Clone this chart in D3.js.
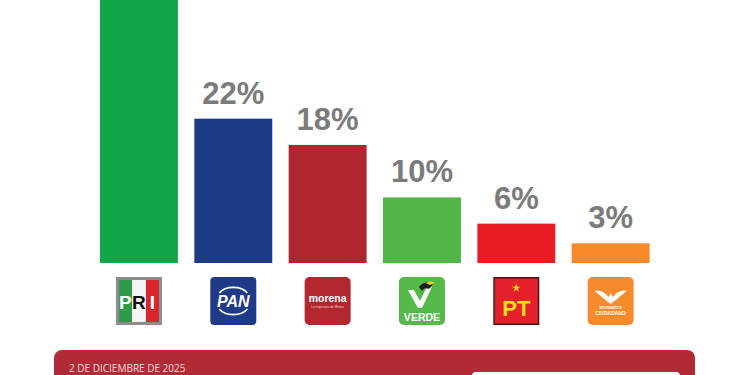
<!DOCTYPE html>
<html>
<head>
<meta charset="utf-8">
<script src="https://cdn.jsdelivr.net/npm/d3@7"></script>
<style>
    body { margin: 0; background: #fff; }
    svg { display: block; }
</style>
</head>
<body>
<div class="party-plot"></div>
<script>

// chart values
const parties = ["PRI", "PAN", "MORENA", "VERDE", "PT", "MC"];
const percents = [41, 22, 18, 10, 6, 3];
const barColors = ["#10a64a", "#1d3a86", "#b0262f", "#52b548", "#e91c24", "#f68a2b"];
const dateLabel = "2 DE DICIEMBRE DE 2025";

const width = 750;
const height = 375;

const rows = parties.map((p, i) => ({ party: p, value: percents[i], color: barColors[i] }));

const svg = d3.select(".party-plot")
    .append("svg")
    .attr("width", width)
    .attr("height", height);

const x = d3.scaleBand()
    .domain(parties)
    .range([91.8, 657.8])
    .paddingInner(0.174)
    .paddingOuter(0.087);

const y = d3.scaleLinear()
    .domain([0, 40])
    .range([263, 0.6]);

// bars
svg.selectAll(".bar")
    .data(rows)
    .enter()
    .append("rect")
    .attr("class", "bar")
    .attr("x", d => x(d.party))
    .attr("y", d => y(d.value))
    .attr("width", x.bandwidth())
    .attr("height", d => y(0) - y(d.value))
    .attr("fill", d => d.color);

// percent labels above bars (the tallest one runs off the top of the frame)
svg.selectAll(".bar-label")
    .data(rows.filter(d => y(d.value) - 15 > 30))
    .enter()
    .append("text")
    .attr("class", "bar-label")
    .text(d => d.value + "%")
    .attr("x", d => x(d.party) + x.bandwidth() / 2)
    .attr("y", d => y(d.value) - 15)
    .attr("text-anchor", "middle")
    .attr("font-family", "Liberation Sans, Arial, sans-serif")
    .attr("font-weight", "bold")
    .attr("font-size", "31px")
    .attr("fill", "#7b7b7b");

// logos under each bar
const logos = svg.selectAll(".logo")
    .data(rows)
    .enter()
    .append("g")
    .attr("class", "logo")
    .attr("transform", d => `translate(${x(d.party) + x.bandwidth() / 2 - 23},277)`);

const font = "Liberation Sans, Arial, sans-serif";

logos.each(function(d) {
    const g = d3.select(this);
    if (d.party === "PRI") {
        g.append("rect").attr("width", 46).attr("height", 48).attr("fill", "#8d8d8d");
        g.append("rect").attr("x", 3).attr("y", 3).attr("width", 13).attr("height", 42).attr("fill", "#2f9a4a");
        g.append("rect").attr("x", 16).attr("y", 3).attr("width", 14).attr("height", 42).attr("fill", "#f4f4f4");
        g.append("rect").attr("x", 30).attr("y", 3).attr("width", 13).attr("height", 42).attr("fill", "#d9262c");
        [["P", 9.5, "#fff"], ["R", 23, "#111"], ["I", 36.5, "#fff"]].forEach(l => {
            g.append("text").text(l[0]).attr("x", l[1]).attr("y", 32)
                .attr("text-anchor", "middle").attr("font-family", font)
                .attr("font-weight", "bold").attr("font-size", "19px").attr("fill", l[2]);
        });
    }
    else if (d.party === "PAN") {
        g.append("rect").attr("width", 46).attr("height", 48).attr("rx", 4).attr("fill", "#1f3b87");
        g.append("path").attr("d", "M9 16 A16 11 0 0 1 37 16").attr("fill", "none").attr("stroke", "#fff").attr("stroke-width", 1.6);
        g.append("path").attr("d", "M9 32 A16 11 0 0 0 37 32").attr("fill", "none").attr("stroke", "#fff").attr("stroke-width", 1.6);
        g.append("text").text("PAN").attr("x", 23).attr("y", 30)
            .attr("text-anchor", "middle").attr("font-family", font)
            .attr("font-weight", "bold").attr("font-style", "italic")
            .attr("font-size", "16px").attr("fill", "#fff");
    }
    else if (d.party === "MORENA") {
        g.append("rect").attr("width", 46).attr("height", 48).attr("rx", 5).attr("fill", "#b3272f");
        g.append("text").text("morena").attr("x", 23).attr("y", 25)
            .attr("text-anchor", "middle").attr("font-family", font)
            .attr("font-weight", "bold").attr("font-size", "10.5px").attr("fill", "#fff");
        g.append("text").text("La esperanza de México").attr("x", 23).attr("y", 31)
            .attr("text-anchor", "middle").attr("font-family", font)
            .attr("font-size", "3px").attr("fill", "#f3d3d3");
    }
    else if (d.party === "VERDE") {
        g.append("rect").attr("width", 46).attr("height", 48).attr("rx", 5).attr("fill", "#55b94a");
        g.append("path").attr("d", "M9 13 L19 31 L23 31 L33 10 L27 12 L21 24 L15 13 Z").attr("fill", "#fff");
        g.append("path").attr("d", "M20 10 Q26 3 34 7 L30 12 Q26 9 23 14 Z").attr("fill", "#1c1c1c");
        g.append("path").attr("d", "M27 6 Q32 3 36 6 L31 8 Z").attr("fill", "#f2d21b");
        g.append("text").text("VERDE").attr("x", 23).attr("y", 44)
            .attr("text-anchor", "middle").attr("font-family", font)
            .attr("font-weight", "bold").attr("font-size", "10.5px").attr("fill", "#fff");
    }
    else if (d.party === "PT") {
        g.append("rect").attr("x", 0.75).attr("y", 0.75).attr("width", 44.5).attr("height", 46.5)
            .attr("fill", "#e4202a").attr("stroke", "#4a1414").attr("stroke-width", 1.5);
        g.append("path").attr("d", d3.symbol(d3.symbolStar, 22)()).attr("transform", "translate(23,11)").attr("fill", "#f8d81a");
        g.append("text").text("PT").attr("x", 23).attr("y", 39)
            .attr("text-anchor", "middle").attr("font-family", font)
            .attr("font-weight", "bold").attr("font-size", "22px").attr("fill", "#f8e01c");
    }
    else {
        g.append("rect").attr("width", 46).attr("height", 48).attr("rx", 5).attr("fill", "#f58b2c");
        g.append("path").attr("d", "M7 14 Q14 12 21 20 L23 16 L25 20 Q32 12 39 14 Q33 19 27 24 L23 27 L19 24 Q13 19 7 14 Z")
            .attr("fill", "#fff");
        g.append("text").text("MOVIMIENTO").attr("x", 23).attr("y", 32)
            .attr("text-anchor", "middle").attr("font-family", font)
            .attr("font-weight", "bold").attr("font-size", "3.5px").attr("fill", "#fff");
        g.append("text").text("CIUDADANO").attr("x", 23).attr("y", 38)
            .attr("text-anchor", "middle").attr("font-family", font)
            .attr("font-weight", "bold").attr("font-size", "5px").attr("fill", "#fff");
    }
});

// footer banner
svg.append("rect")
    .attr("x", 54)
    .attr("y", 350)
    .attr("width", 641)
    .attr("height", 40)
    .attr("rx", 8)
    .attr("fill", "#b12b37");

svg.append("text")
    .text(dateLabel)
    .attr("x", 69)
    .attr("y", 372)
    .attr("font-family", "Open Sans, sans-serif")
    .attr("font-size", "10px")
    .attr("fill", "#f6dcdc");

svg.append("rect")
    .attr("x", 472)
    .attr("y", 372)
    .attr("width", 208)
    .attr("height", 20)
    .attr("rx", 4)
    .attr("fill", "#fff");

</script>
</body>
</html>
